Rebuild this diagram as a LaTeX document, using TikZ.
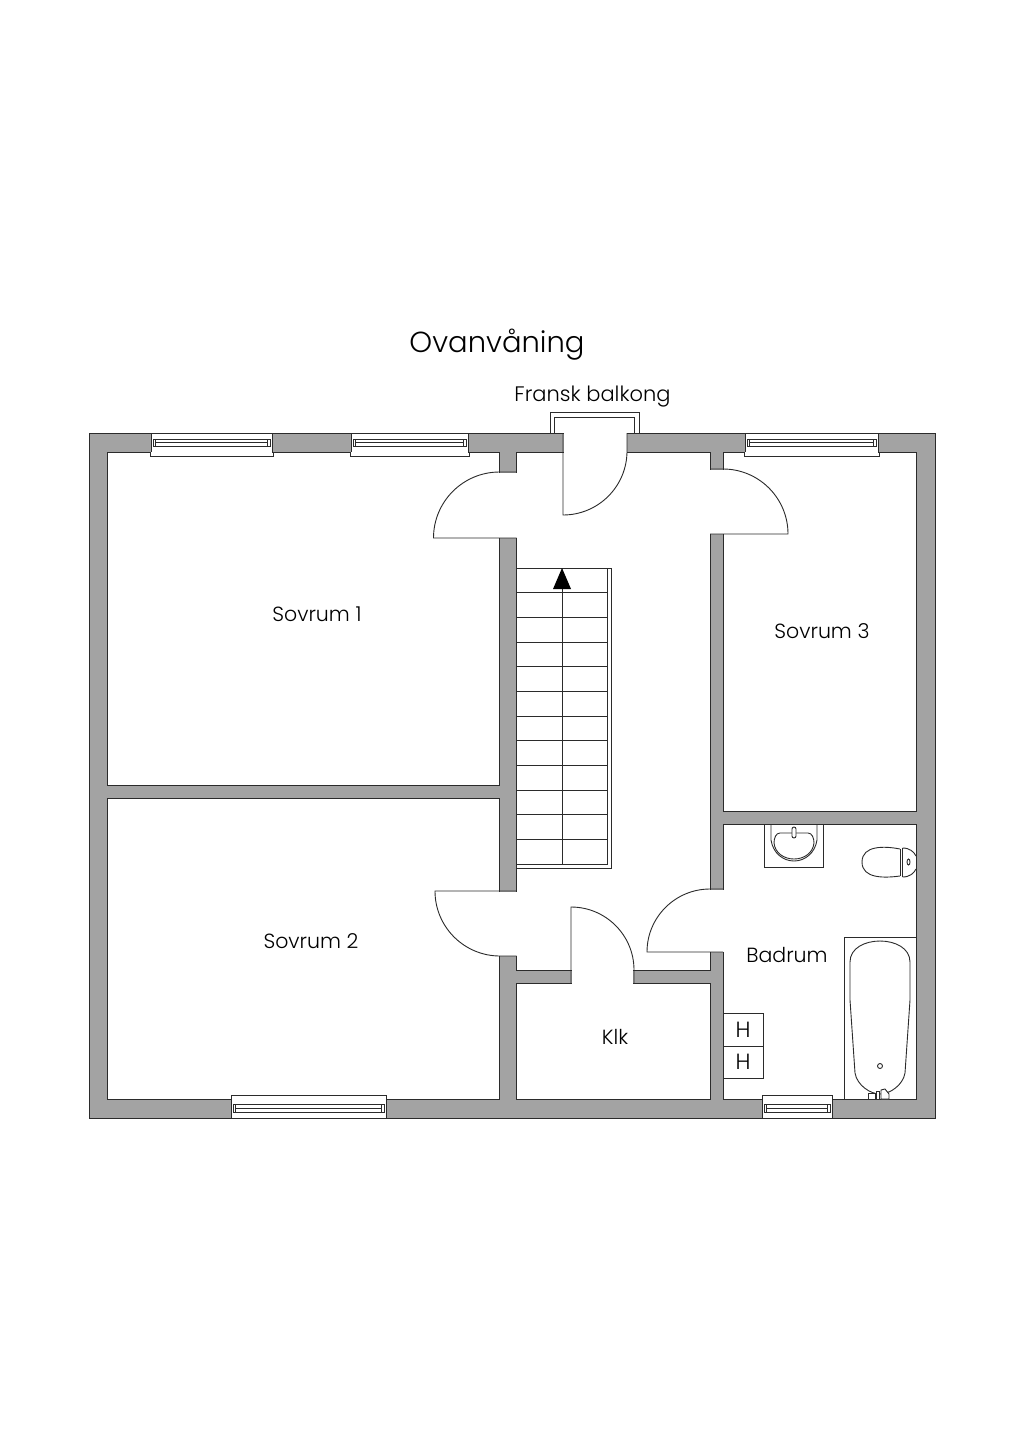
\documentclass[tikz,border=0pt]{standalone}
\usepackage{fontspec}
\setmainfont{Poppins}[UprightFont=* Light]
\usetikzlibrary{calc}
\definecolor{wallgrey}{HTML}{A3A3A3}
\definecolor{ink}{HTML}{2B2B2B}
\tikzset{
    wall/.style =   {fill=wallgrey,
                    draw=ink,
                    line width=0.9pt},
    room/.style =   {fill=white,
                    draw=ink,
                    line width=0.9pt},
    fixture/.style ={draw=ink,
                    line width=0.9pt},
    thin line/.style ={draw=ink,
                    line width=0.7pt},
    label/.style =  {text=black,
                    inner sep=0pt,
                    font=\fontsize{20.5}{24}\selectfont}
}
% windows, from left end #1 to right end #2
\newcommand{\topwindow}[2]{
    \fill[white] (#1,433) rectangle (#2,456);
    \draw[fixture] (#1,433) -- (#2,433) (#1-1,452) -- (#1-1,456) -- (#2+1,456) -- (#2+1,452);
    \draw[fixture] (#1,433) -- (#1,452) (#2,433) -- (#2,452);
    \draw[thin line] (#1+2,439) rectangle (#2-2,446);
    \draw[thin line] (#1+4.5,439) -- (#1+4.5,446) (#2-4.5,439) -- (#2-4.5,446);
    \draw[thin line] (#1+4.5,442.5) -- (#2-4.5,442.5);
}
\newcommand{\botwindow}[2]{
    \fill[white] (#1,1095) rectangle (#2,1118);
    \draw[fixture] (#1,1118) -- (#2,1118) (#1,1118) -- (#1,1095) -- (#2,1095) -- (#2,1118);
    \draw[thin line] (#1+2,1104) rectangle (#2-2,1112);
    \draw[thin line] (#1+4.5,1104) -- (#1+4.5,1112) (#2-4.5,1104) -- (#2-4.5,1112);
    \draw[thin line] (#1+4.5,1108) -- (#2-4.5,1108);
}
\begin{document}
\begin{tikzpicture}[x=1pt,y=-1pt]
    \useasboundingbox (0,0) rectangle (1024,1448);
    % walls and rooms
    \draw[wall] (89,433) rectangle (935,1118);
    \draw[room] (107.5,452) rectangle (499.5,785);
    \draw[room] (107.5,798) rectangle (499.5,1099.5);
    \draw[room] (723,452) rectangle (916,811);
    \draw[room] (723,824) rectangle (916,1099.5);
    \draw[room] (516.5,983) rectangle (710,1099.5);
    \draw[room] (516.5,452) rectangle (710,970);
    % door openings
    \fill[white] (498,472.5) rectangle (518,537.5);
    \fill[white] (498,891.5) rectangle (518,955.5);
    \fill[white] (708,469.5) rectangle (725,533.5);
    \fill[white] (708,889.5) rectangle (725,951.5);
    \fill[white] (571.5,968) rectangle (633,985);
    \fill[white] (563.5,431) rectangle (626.5,454);
    \draw[fixture] (499.5,472) -- (516.5,472) (499.5,472) arc (-90:-180:66) -- (516.5,538);
    \draw[fixture] (516.5,891) -- (435,891) arc (180:90:65) -- (516.5,956);
    \draw[fixture] (710,469) -- (723,469) arc (-90:0:65) -- (710,534);
    \draw[fixture] (723,889) -- (710,889) arc (-90:-180:63) -- (723,952);
    \draw[fixture] (571,983) -- (571,907) arc (-90:0:63) -- (634,983);
    \draw[fixture] (563,433) -- (563,515) arc (90:0:64) -- (627,433);
    % windows
    \topwindow{151}{272}
    \topwindow{351}{468}
    \topwindow{745}{878}
    \botwindow{231}{386}
    \botwindow{762}{832}
    % french balcony
    \draw[fixture] (550,433) -- (550,412) -- (639,412) -- (639,433);
    \draw[fixture] (554,433) -- (554,417) -- (634,417) -- (634,433);
    % stairs
    \draw[fixture] (516.5,568) -- (611.5,568) -- (611.5,868) -- (516.5,868);
    \draw[fixture] (607,568) -- (607,864) -- (516.5,864);
    \foreach \i in {1,...,11}
        \draw[fixture] (516.5,568+24.67*\i) -- (607,568+24.67*\i);
    \draw[fixture] (562,589) -- (562,864);
    \fill[black] (562,568) -- (571,589) -- (553,589) -- cycle;
    % heaters
    \draw[fixture] (723,1013) rectangle (763,1046);
    \draw[fixture] (723,1046) rectangle (763,1078);
    % sink
    \draw[fixture] (764,824) -- (764,867) -- (823,867) -- (823,824);
    \draw[fixture] (771,824) -- (771,840) .. controls (773,853) and (783,861) .. (794,861)
        .. controls (805,861) and (815,853) .. (817,840) -- (817,824);
    \draw[fixture] (774,843) .. controls (775,853) and (784,859) .. (794,859)
        .. controls (804,859) and (813,853) .. (814,843)
        .. controls (814,838) and (812,833) .. (808,833) -- (780,833)
        .. controls (776,833) and (774,838) .. (774,843) -- cycle;
    \draw[fixture,fill=white,rounded corners=2pt] (792,827) rectangle (796,838);
    % toilet
    \draw[fixture] (900,849) .. controls (885,846) and (862,845) .. (862,862)
        .. controls (862,879) and (885,878) .. (900,876);
    \draw[fixture] (900,849) -- (900,876) (902.5,848) -- (902.5,877);
    \draw[fixture] (902.5,848) .. controls (910,848) and (914,852) .. (916,856);
    \draw[fixture] (902.5,877) .. controls (910,877) and (914,873) .. (916,869);
    \draw[fixture] (908.5,862) ellipse (1.5 and 3);
    % bath
    \draw[fixture] (844,1099.5) -- (844,937) -- (916,937);
    \draw[fixture] (850,962) .. controls (850,948) and (865,941) .. (880,941)
        .. controls (895,941) and (910,948) .. (910,962)
        -- (910,1000) -- (905,1073)
        .. controls (903,1085) and (890,1094) .. (880,1094)
        .. controls (870,1094) and (857,1085) .. (855,1073)
        -- (850,1000) -- cycle;
    \draw[fixture] (880,1066) circle (2.5);
    \draw[fixture,fill=white] (868,1093) rectangle (875,1099);
    \draw[fixture,fill=white] (876,1091) rectangle (879,1099);
    \draw[fixture,fill=white] (881,1090) -- (885,1089) -- (889,1094) -- (889,1099) -- (881,1099) -- cycle;
    % labels
    \node[label,font=\fontsize{29}{34}\selectfont] (title) at (497,345) {Ovanvåning};
    \node[label,font=\fontsize{21}{24}\selectfont] (balcony) at (592.5,396.5) {Fransk balkong};
    \node[label] (bed1) at (317,614) {Sovrum 1};
    \node[label] (bed2) at (311,941) {Sovrum 2};
    \node[label] (bed3) at (822,631) {Sovrum 3};
    \node[label] (closet) at (615,1037) {Klk};
    \node[label] (bath) at (787,955) {Badrum};
    \node[label,font=\fontsize{22}{24}\selectfont] (h1) at (743,1030) {H};
    \node[label,font=\fontsize{22}{24}\selectfont] (h2) at (743,1062) {H};
\end{tikzpicture}
\end{document}
